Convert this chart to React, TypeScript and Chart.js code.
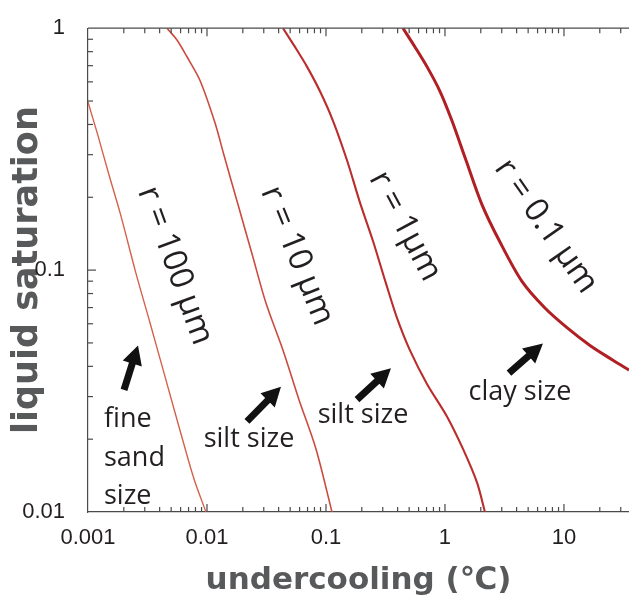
import React, { useEffect, useRef } from 'react';
import { Chart, registerables } from 'chart.js';

Chart.register(...registerables);

// ---- data (undercooling in °C, liquid saturation) ----
const R100_X = [0.001, 0.001213, 0.001502, 0.001876, 0.002507, 0.003319, 0.004567, 0.006284, 0.007852, 0.00981];
const R100_Y = [0.495, 0.3597, 0.2472, 0.1699, 0.0986, 0.06055, 0.0345, 0.01965, 0.0135, 0.01];

const R10_X = [0.004613, 0.005595, 0.00679, 0.008737, 0.01167, 0.0139, 0.01822, 0.02389, 0.03131, 0.04353, 0.05931, 0.08241, 0.1123];
const R10_Y = [1, 0.894, 0.762, 0.608, 0.4064, 0.2982, 0.1866, 0.1168, 0.07303, 0.0466, 0.02913, 0.01823, 0.01];

const R1_X = [0.04353, 0.05489, 0.06922, 0.08905, 0.1145, 0.1502, 0.1931, 0.2483, 0.3193, 0.3951, 0.5081, 0.7059, 1.039, 1.417, 1.857, 2.168];
const R1_Y = [1, 0.8367, 0.6937, 0.5485, 0.4142, 0.2845, 0.1901, 0.1319, 0.0881, 0.06345, 0.04656, 0.03385, 0.02484, 0.01823, 0.01325, 0.01];

const R01_X = [0.4437, 0.5597, 0.7059, 0.9078, 1.145, 1.502, 2.046, 2.899, 4.437, 6.922, 10.6, 16.54, 25.81, 35.2];
const R01_Y = [1, 0.8367, 0.6937, 0.5485, 0.4142, 0.2845, 0.1866, 0.1306, 0.0898, 0.06968, 0.0578, 0.0488, 0.0424, 0.0386];

const X_TICK_LABELS = ['0.001', '0.01', '0.1', '1', '10'];
const Y_TICK_LABELS = ['0.01', '0.1', '1'];

const X_MIN = 0.001;
const X_MAX = 35.2;
const Y_MIN = 0.01;
const Y_MAX = 1;

// annotations (anchored in data coordinates)
const CURVE_LABELS = [
  { text: 'r = 100 µm', x: 0.005384, y: 0.1043, angle: 70 },
  { text: 'r = 10 µm', x: 0.05706, y: 0.1146, angle: 68 },
  { text: 'r = 1µm', x: 0.4613, y: 0.1518, angle: 62 },
  { text: 'r = 0.1 µm', x: 7.059, y: 0.1518, angle: 55 },
];

const SIZE_LABELS = [
  { lines: ['fine', 'sand', 'size'], x: 0.001363, y: 0.0224, align: 'left' },
  { lines: ['silt size'], x: 0.02254, y: 0.01857, align: 'center' },
  { lines: ['silt size'], x: 0.2046, y: 0.02326, align: 'center' },
  { lines: ['clay size'], x: 4.268, y: 0.02913, align: 'center' },
];

const ARROWS = [
  { x0: 0.002007, y0: 0.03199, x1: 0.002632, y1: 0.04881 },
  { x0: 0.02168, y0: 0.0237, x1: 0.04185, y1: 0.03291 },
  { x0: 0.1822, y0: 0.02913, x1: 0.3517, y1: 0.03933 },
  { x0: 3.45, y0: 0.03753, x1: 6.659, y1: 0.04972 },
];

const AXIS_COLOR = '#4a4a4a';
const TEXT_COLOR = '#231f20';
const TITLE_COLOR = '#58595b';

const CURVES = [
  { label: 'r = 100 µm', xs: R100_X, ys: R100_Y, color: '#d5614d', width: 1.4 },
  { label: 'r = 10 µm', xs: R10_X, ys: R10_Y, color: '#cc4b3f', width: 1.6 },
  { label: 'r = 1 µm', xs: R1_X, ys: R1_Y, color: '#ba2d2d', width: 2.1 },
  { label: 'r = 0.1 µm', xs: R01_X, ys: R01_Y, color: '#b01f24', width: 3 },
];

function sig(v: number) {
  const e = Math.floor(Math.log10(v) + 1e-9);
  return v / Math.pow(10, e);
}

const overlayPlugin = {
  id: 'overlay',
  afterDatasetsDraw(chart: any) {
    const { ctx, chartArea, scales } = chart;
    const xs = scales.x;
    const ys = scales.y;
    const { left, right, top, bottom } = chartArea;
    ctx.save();
    ctx.strokeStyle = AXIS_COLOR;
    ctx.lineWidth = 1.2;
    ctx.beginPath();
    ctx.moveTo(left, top);
    ctx.lineTo(right, top);
    ctx.stroke();

    xs.ticks.forEach((t: any) => {
      const s = sig(t.value);
      const r = Math.round(s);
      if (Math.abs(s - r) > 1e-6) return;
      const px = xs.getPixelForValue(t.value);
      if (px <= left + 1 || px >= right - 1) return;
      const len = r === 1 || r === 10 ? 8 : 5;
      ctx.beginPath();
      ctx.moveTo(px, bottom);
      ctx.lineTo(px, bottom - len);
      ctx.moveTo(px, top);
      ctx.lineTo(px, top + len);
      ctx.stroke();
    });
    ys.ticks.forEach((t: any) => {
      const s = sig(t.value);
      const r = Math.round(s);
      if (Math.abs(s - r) > 1e-6) return;
      const py = ys.getPixelForValue(t.value);
      if (py <= top + 1 || py >= bottom - 1) return;
      const len = r === 1 || r === 10 ? 8 : 5;
      ctx.beginPath();
      ctx.moveTo(left, py);
      ctx.lineTo(left + len, py);
      ctx.stroke();
    });

    // curve labels
    ctx.fillStyle = TEXT_COLOR;
    ctx.font = '33px "Open Sans", "Noto Sans", sans-serif';
    ctx.textAlign = 'center';
    ctx.textBaseline = 'middle';
    CURVE_LABELS.forEach((l) => {
      const px = xs.getPixelForValue(l.x);
      const py = ys.getPixelForValue(l.y);
      ctx.save();
      ctx.translate(px, py);
      ctx.rotate((l.angle * Math.PI) / 180);
      ctx.fillText(l.text, 0, 0);
      ctx.restore();
    });

    // size labels
    ctx.font = '27px "Open Sans", "Noto Sans", sans-serif';
    ctx.textBaseline = 'alphabetic';
    SIZE_LABELS.forEach((l) => {
      const px = xs.getPixelForValue(l.x);
      const py = ys.getPixelForValue(l.y);
      ctx.textAlign = l.align;
      l.lines.forEach((line, i) => ctx.fillText(line, px, py + i * 38.5));
    });

    // arrows
    ctx.fillStyle = '#111111';
    ARROWS.forEach((a) => {
      const x0 = xs.getPixelForValue(a.x0);
      const y0 = ys.getPixelForValue(a.y0);
      const x1 = xs.getPixelForValue(a.x1);
      const y1 = ys.getPixelForValue(a.y1);
      const dx = x1 - x0;
      const dy = y1 - y0;
      const L = Math.hypot(dx, dy);
      const ux = dx / L;
      const uy = dy / L;
      const nx = -uy;
      const ny = ux;
      const sw = 3.5;
      const hw = 10;
      const hl = 19;
      const bx = x1 - ux * hl;
      const by = y1 - uy * hl;
      ctx.beginPath();
      ctx.moveTo(x0 + nx * sw, y0 + ny * sw);
      ctx.lineTo(bx + nx * sw, by + ny * sw);
      ctx.lineTo(bx + nx * hw, by + ny * hw);
      ctx.lineTo(x1, y1);
      ctx.lineTo(bx - nx * hw, by - ny * hw);
      ctx.lineTo(bx - nx * sw, by - ny * sw);
      ctx.lineTo(x0 - nx * sw, y0 - ny * sw);
      ctx.closePath();
      ctx.fill();
    });
    ctx.restore();
  },
};

function labelFor(list: string[], value: number) {
  const l = list.find((s) => Math.abs(Number(s) - value) / value < 1e-6);
  return l ?? '';
}

export default function App() {
  const ref = useRef<HTMLCanvasElement | null>(null);

  useEffect(() => {
    if (!ref.current) return;
    const chart = new Chart(ref.current, {
      type: 'scatter',
      data: {
        datasets: CURVES.map((c) => ({
          label: c.label,
          data: c.xs.map((x, i) => ({ x, y: c.ys[i] })),
          showLine: true,
          borderColor: c.color,
          backgroundColor: c.color,
          borderWidth: c.width,
          pointRadius: 0,
          tension: 0.3,
        })),
      },
      options: {
        responsive: false,
        animation: false,
        layout: { padding: { top: 21, right: 0, left: 0, bottom: 0 } },
        plugins: { legend: { display: false }, tooltip: { enabled: false } },
        scales: {
          x: {
            type: 'logarithmic',
            position: 'bottom',
            min: X_MIN,
            max: X_MAX,
            grid: { display: false },
            border: { display: true, color: AXIS_COLOR, width: 1.2 },
            ticks: {
              autoSkip: false,
              maxRotation: 0,
              padding: 5,
              color: TEXT_COLOR,
              font: { family: '"Liberation Sans", Arial, sans-serif', size: 22 },
              callback: (v: any) => labelFor(X_TICK_LABELS, Number(v)),
            },
            title: {
              display: true,
              text: 'undercooling (℃)',
              color: TITLE_COLOR,
              font: { family: '"DejaVu Sans", sans-serif', size: 31, weight: 'bold', lineHeight: 1 },
              padding: { top: 0, bottom: 0 },
            },
            afterFit: (scale: any) => {
              scale.height = 84;
              scale.paddingRight = 0;
              scale.paddingLeft = 0;
            },
          },
          y: {
            type: 'logarithmic',
            position: 'left',
            min: Y_MIN,
            max: Y_MAX,
            grid: { display: false },
            border: { display: true, color: AXIS_COLOR, width: 1.2 },
            ticks: {
              autoSkip: false,
              padding: 15,
              color: TEXT_COLOR,
              font: { family: '"Liberation Sans", Arial, sans-serif', size: 22 },
              callback: (v: any) => labelFor(Y_TICK_LABELS, Number(v)),
            },
            title: {
              display: true,
              text: 'liquid saturation',
              color: TITLE_COLOR,
              font: { family: '"DejaVu Sans", sans-serif', size: 35, weight: 'bold', lineHeight: 1 },
              padding: { top: 10, bottom: 0 },
            },
            afterFit: (scale: any) => {
              scale.width = 88;
            },
          },
        },
      } as any,
      plugins: [overlayPlugin],
    });
    return () => chart.destroy();
  }, []);

  return (
    <div style={{ position: 'fixed', left: 0, top: 0, width: 629, height: 596, background: '#ffffff' }}>
      <canvas ref={ref} width={629} height={596} style={{ display: 'block' }} />
    </div>
  );
}
